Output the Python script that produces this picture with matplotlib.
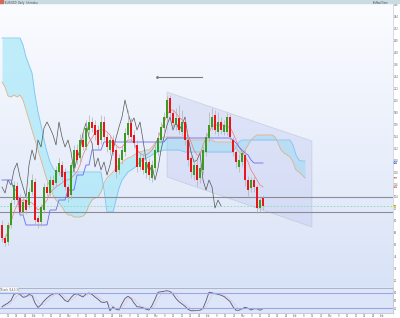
import numpy as np
import matplotlib
matplotlib.use("Agg")
import matplotlib.pyplot as plt
from matplotlib.colors import LinearSegmentedColormap

# candle data (price units), one entry per bar
opens = [75, 62, 58, 75, 100, 114, 102, 88, 100, 95,
         108, 118, 82, 78, 90, 113, 107, 120, 117, 128,
         135, 128, 113, 105, 132, 150, 142, 160, 153, 170,
         178, 175, 170, 160, 178, 163, 150, 160, 150, 130,
         140, 148, 165, 177, 165, 155, 133, 142, 127, 138,
         122, 132, 148, 160, 172, 182, 202, 187, 175, 182,
         168, 178, 160, 142, 125, 135, 122, 130, 148, 162,
         173, 185, 168, 178, 168, 168, 183, 160, 148, 133,
         138, 145, 120, 112, 120, 113, 92, 102]
closes = [62, 57, 75, 97, 115, 100, 88, 98, 90, 108,
          120, 80, 78, 93, 113, 107, 120, 115, 130, 137,
          123, 113, 103, 135, 150, 140, 160, 153, 172, 178,
          172, 165, 155, 178, 163, 153, 160, 148, 128, 142,
          150, 167, 177, 163, 157, 133, 142, 130, 138, 125,
          135, 150, 162, 173, 183, 200, 187, 177, 182, 170,
          178, 160, 140, 128, 135, 120, 132, 150, 163, 175,
          183, 170, 178, 170, 175, 183, 163, 148, 138, 140,
          147, 120, 110, 120, 113, 92, 100, 94]
highs = [80, 65, 78, 100, 119, 118, 106, 102, 105, 112,
         126, 122, 85, 96, 117, 118, 124, 125, 134, 142,
         139, 132, 116, 138, 155, 156, 166, 172, 180, 185,
         183, 180, 175, 185, 184, 167, 164, 165, 154, 146,
         155, 172, 190, 182, 170, 160, 147, 146, 142, 142,
         140, 155, 168, 178, 188, 204, 205, 190, 192, 195,
         190, 182, 164, 146, 140, 140, 136, 154, 168, 188,
         192, 190, 188, 183, 180, 187, 186, 163, 150, 146,
         150, 150, 124, 123, 124, 115, 104, 105]
lows = [58, 54, 55, 72, 96, 96, 84, 84, 86, 92,
        105, 76, 72, 74, 87, 104, 104, 112, 114, 125,
        120, 110, 98, 101, 128, 136, 138, 150, 150, 166,
        168, 160, 150, 156, 160, 148, 145, 145, 122, 126,
        136, 144, 162, 158, 152, 128, 130, 126, 122, 120,
        118, 128, 145, 157, 168, 178, 183, 172, 170, 166,
        164, 155, 134, 122, 120, 114, 117, 126, 144, 158,
        170, 166, 164, 166, 165, 165, 160, 144, 132, 128,
        134, 114, 104, 108, 108, 87, 88, 90]

# ichimoku lines
tenkan = [60, 62, 68, 78, 88, 95, 98, 100, 100, 98,
          97, 94, 90, 92, 96, 100, 107, 110, 113, 115,
          117, 120, 120, 122, 125, 128, 135, 145, 152, 158,
          162, 167, 170, 170, 170, 168, 165, 160, 155, 152,
          153, 157, 160, 160, 157, 150, 147, 145, 145, 147,
          150, 155, 162, 170, 178, 185, 190, 190, 187, 183,
          180, 175, 165, 158, 150, 145, 145, 155, 162, 168,
          173, 175, 175, 175, 175, 173, 173, 167, 160, 153,
          148, 144, 138, 130, 125, 120, 115, 113]
kijun = [120, 120, 120, 120, 110, 110, 85, 85, 75, 75,
         75, 75, 75, 75, 75, 75, 90, 90, 90, 100,
         100, 100, 110, 110, 110, 125, 125, 125, 135, 135,
         150, 150, 150, 150, 158, 158, 158, 158, 158, 158,
         158, 158, 158, 158, 158, 158, 158, 158, 158, 158,
         158, 158, 158, 158, 158, 162, 162, 162, 162, 162,
         162, 162, 162, 162, 162, 162, 162, 162, 162, 162,
         162, 162, 162, 162, 162, 162, 162, 160, 157, 153,
         150, 147, 145, 140, 137, 137, 137, 137]
# leading spans run past the last bar
span_a = [218, 213, 204, 203, 205, 203, 205, 200, 190, 180,
          170, 160, 150, 140, 130, 120, 113, 105, 100, 97,
          93, 88, 85, 85, 83, 83, 83, 84, 87, 95,
          100, 102, 103, 108, 117, 122, 125, 128, 132, 135,
          138, 140, 142, 143, 145, 147, 148, 149, 150, 150,
          153, 157, 160, 162, 163, 163, 163, 163, 163, 163,
          163, 162, 161, 160, 160, 160, 160, 160, 160, 160,
          160, 158, 158, 158, 158, 158, 158, 157, 152, 148,
          145, 150, 155, 160, 163, 165, 165, 165, 165, 165,
          165, 163, 157, 150, 147, 145, 143, 138, 130, 128,
          125, 122]
span_b = [262, 262, 262, 262, 262, 262, 262, 255, 243, 235,
          227, 205, 188, 175, 160, 148, 138, 132, 128, 128,
          128, 128, 128, 128, 128, 128, 128, 128, 128, 128,
          128, 128, 128, 128, 110, 88, 88, 88, 100, 112,
          120, 124, 128, 130, 132, 135, 138, 140, 142, 143,
          145, 147, 148, 149, 150, 150, 150, 150, 150, 150,
          149, 148, 148, 148, 148, 148, 148, 148, 148, 148,
          148, 148, 148, 148, 148, 148, 148, 148, 153, 158,
          160, 160, 160, 160, 160, 160, 160, 160, 160, 160,
          160, 160, 160, 160, 160, 160, 160, 155, 145, 140,
          139, 139]
lag = 14  # chikou shift in bars

# stochastic oscillator
stoch_k = [25, 33, 40, 50, 75, 79, 74, 63, 65, 74,
           70, 40, 22, 33, 48, 60, 70, 76, 79, 76,
           64, 50, 45, 62, 74, 77, 70, 64, 76, 80,
           74, 64, 55, 44, 42, 46, 9, 25, 15, 12,
           37, 58, 67, 58, 40, 25, 24, 21, 15, 12,
           30, 55, 83, 85, 87, 89, 86, 75, 58, 45,
           36, 27, 15, 9, 9, 10, 11, 19, 48, 83,
           81, 77, 75, 71, 66, 56, 46, 25, 11, 11,
           17, 23, 19, 12, 17, 17, 11, 17]
stoch_d = [22, 28, 33, 40, 55, 68, 76, 74, 68, 67,
           70, 62, 45, 32, 34, 45, 58, 68, 75, 78,
           75, 64, 53, 52, 60, 71, 74, 70, 70, 75,
           77, 72, 64, 55, 47, 44, 33, 27, 17, 16,
           21, 36, 54, 61, 55, 42, 30, 24, 21, 16,
           19, 32, 56, 74, 85, 87, 87, 83, 73, 60,
           47, 36, 27, 18, 12, 10, 10, 13, 25, 50,
           71, 80, 78, 75, 71, 65, 56, 43, 28, 16,
           13, 17, 20, 18, 16, 16, 15, 15]

# drawings on the chart
channel_x = [55, 103.3, 103.3, 55]
channel_y = [208, 159, 73, 123]
arrow_x = [51.7, 66.7]
arrow_y = [223, 223]
support_levels = [103, 88]
last_price = 94

date_labels = ['12', '19', '26', 'Feb', '9', '16', '23', 'Mar', '9', '16']

n = len(closes)
idx = np.arange(n)
idx_lead = np.arange(len(span_a))

fig = plt.figure(figsize=(4, 3.18), dpi=100)
fig.patch.set_facecolor('white')
ax = fig.add_axes([0, 31 / 318, 393 / 400, 284 / 318])
osc = fig.add_axes([0, 5 / 318, 393 / 400, 26 / 318], sharex=ax)

# soft blue gradient background
bg = LinearSegmentedColormap.from_list('bg', ['#d9e3f7', '#fbfcff'])
grad = np.linspace(0, 1, 256).reshape(-1, 1)
ax.imshow(grad, extent=[0, 1, 0, 1], transform=ax.transAxes, aspect='auto',
          cmap=bg, origin='lower', zorder=0)
osc.set_facecolor('#dde5f8')

# cloud
ax.fill_between(idx_lead, span_a, span_b, color='#a8e8f8', alpha=0.7, lw=0, zorder=1)
ax.plot(idx_lead, span_a, color='#d8b48a', lw=0.6, zorder=2)
ax.plot(idx_lead, span_b, color='#7cc6f2', lw=0.6, zorder=2)

# channel
ax.fill(channel_x, channel_y, facecolor='#b8c0ee', alpha=0.3, edgecolor='#9a9cb0',
        lw=0.6, zorder=1.5)

# chikou, tenkan, kijun
ax.plot(idx[:-lag], closes[lag:], color='#555555', lw=0.5, zorder=3)
ax.plot(idx, tenkan, color='#f07a7a', lw=0.5, zorder=3)
ax.plot(idx, kijun, color='#6b6bf0', lw=0.6, zorder=3)

# candles
up = np.array(closes) >= np.array(opens)
body_lo = np.minimum(opens, closes)
body_h = np.abs(np.array(closes) - np.array(opens))
ax.vlines(idx, lows, highs, color='#b0b0b0', lw=0.5, zorder=4)
ax.bar(idx, body_h, bottom=body_lo, width=0.7,
       color=np.where(up, '#3c9a1c', '#e8151b'), lw=0, zorder=5)

# horizontal levels
for lvl in support_levels:
    ax.axhline(lvl, color='#8c8c96', lw=0.8, zorder=2)
ax.axhline(last_price, color='#8fd6b8', lw=0.6, ls=(0, (2, 2)), zorder=2)
ax.plot(arrow_x, arrow_y, color='#7a7a7a', lw=0.8, zorder=3)
ax.plot(arrow_x[0], arrow_y[0], marker='o', ms=1, color='#7a7a7a', zorder=3)

ax.set_xlim(-0.67, 130.33)
ax.set_ylim(13, 297)
ax.yaxis.tick_right()
ax.set_yticks(np.arange(20, 300, 12))
ax.tick_params(axis='y', labelsize=1.8, length=0, pad=0.6, colors='#666666')
ax.tick_params(axis='x', bottom=False, labelbottom=False)
for s in ['top', 'left', 'bottom']:
    ax.spines[s].set_visible(False)
ax.spines['right'].set_color('#c8ccd8')
ax.spines['right'].set_linewidth(0.5)

# value tags on the price scale
tags = [(last_price, '#f2d64a'), (tenkan[-1], '#f4b4b4'), (span_a[-1], '#e6d2b8'),
        (kijun[-1], '#b4b4f0'), (span_b[-1], '#a8dcf8')]
for val, col in tags:
    ax.text(1.0015, val, str(val), transform=ax.get_yaxis_transform(), fontsize=1.4,
            va='center', ha='left', color='#333333',
            bbox=dict(boxstyle='square,pad=0.05', fc=col, ec='none'))

# oscillator panel
osc.plot(idx, stoch_k, color='#55557a', lw=0.6)
osc.plot(idx, stoch_d, color='#e09a9a', lw=0.5, ls=':')
osc.axhline(80, color='#9aa6ee', lw=0.8)
osc.axhline(20, color='#9aa6ee', lw=0.8)
osc.axhline(100, color='#a8acb8', lw=0.6)
osc.set_ylim(0, 104)
osc.yaxis.tick_right()
osc.set_yticks([20, 50, 80])
osc.tick_params(axis='y', labelsize=1.8, length=0, pad=0.6, colors='#666666')
osc.set_xticks(np.arange(2, 130, 2.9)[:44])
osc.set_xticklabels((date_labels * 5)[:44], fontsize=1.8)
osc.tick_params(axis='x', length=0.8, width=0.3, pad=0.2, colors='#666666')
for s in ['top', 'left']:
    osc.spines[s].set_visible(False)
osc.spines['bottom'].set_color('#c8ccd8')
osc.spines['right'].set_color('#c8ccd8')
osc.text(0.003, 0.97, 'Stoch (14,3,3)', transform=osc.transAxes, fontsize=1.8,
         va='top', color='#444444', bbox=dict(fc='white', ec='#c0c0c0', lw=0.3, pad=0.3))

# header strip
fig.patches.append(plt.Rectangle((0, 315 / 318), 1, 3 / 318, transform=fig.transFigure,
                                 color='#c9dbe3', zorder=0))
fig.patches.append(plt.Rectangle((0.001, 315.5 / 318), 0.006, 2.3 / 318,
                                 transform=fig.transFigure, color='#d06a5a', zorder=1))
fig.text(0.012, 0.997, 'EUR/USD  Daily  Ichimoku', fontsize=1.8, va='top', color='#444444')
fig.text(0.97, 0.997, 'ProRealTime', fontsize=1.8, va='top', ha='right', color='#444444')

fig.savefig('out.png', dpi=100)
